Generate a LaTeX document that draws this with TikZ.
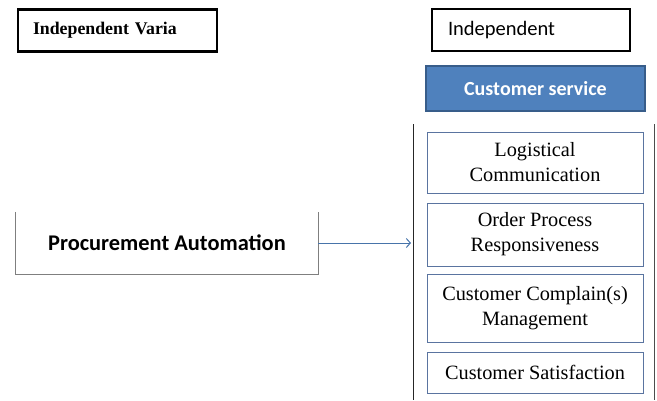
\documentclass[tikz,border=0pt]{standalone}
\usepackage{fontspec}
\setmainfont{Liberation Serif}
\newfontfamily\calibri{Carlito}
\usetikzlibrary{arrows.meta}
\definecolor{headblue}{HTML}{4F81BD}
\definecolor{headedge}{HTML}{385D8A}
\definecolor{dimedge}{HTML}{5A74A0}
\definecolor{procgray}{HTML}{7F7F7F}
\tikzset{
  varbox/.style={draw=black, line width=2.5pt, rectangle, minimum height=42pt,
    inner xsep=15pt, align=left},
  headbox/.style={draw=headedge, fill=headblue, line width=1.5pt, text=white,
    minimum width=219pt, minimum height=45pt, font=\calibri\bfseries\fontsize{20}{23}\selectfont},
  dimbox/.style={draw=dimedge, line width=0.9pt, minimum width=216pt, align=center,
    font=\fontsize{20.3}{25}\selectfont},
  procbox/.style={minimum width=302pt, minimum height=62pt,
    font=\calibri\bfseries\fontsize{22.4}{25}\selectfont},
}
\begin{document}
\begin{tikzpicture}[x=1pt, y=-1pt]
  \useasboundingbox (0,0) rectangle (657,400);
  % header boxes
  \node[varbox, text width=169pt, font=\bfseries\fontsize{17.8}{20}\selectfont] (indepvar) at (117.5,30.5) {Independent Varia};
  \node[varbox, inner xsep=16pt, text width=166pt, font=\calibri\fontsize{20.5}{23}\selectfont] (indep) at (531,30) {Independent};
  \node[headbox] (service) at (535.5,88.5) {Customer service};
  % bracket round the dimensions
  \coordinate (brtl) at (413,124);
  \coordinate (brbl) at (413,400);
  \coordinate (brtr) at (654,124);
  \coordinate (brbr) at (654,400);
  \draw[line width=1pt, black!85] (brtl) -- (brbl);
  \draw[line width=1pt, black!70] (brtr) -- (brbr);
  % dimensions of customer service
  \node[dimbox, minimum height=61pt] (logist) at (535,162.5) {Logistical\\Communication};
  \node[dimbox, minimum height=63pt] (order) at (535,234.5) {Order Process\\Responsiveness};
  \node[dimbox, minimum height=68pt] (complain) at (535,308) {Customer Complain(s)\\Management};
  \node[dimbox, minimum height=41pt] (satisf) at (535,372.5) {Customer Satisfaction};
  % independent variable, box open at the top
  \node[procbox] (proc) at (167,243) {Procurement Automation};
  \draw[procgray, line width=1pt] (proc.north west) -- (proc.south west) -- (proc.south east) -- (proc.north east);
  \coordinate (tip) at (411,243);
  \draw[headblue!90!black, line width=1pt, -{Straight Barb[length=4pt,width=9pt]}] (proc.east) -- (tip);
\end{tikzpicture}
\end{document}
